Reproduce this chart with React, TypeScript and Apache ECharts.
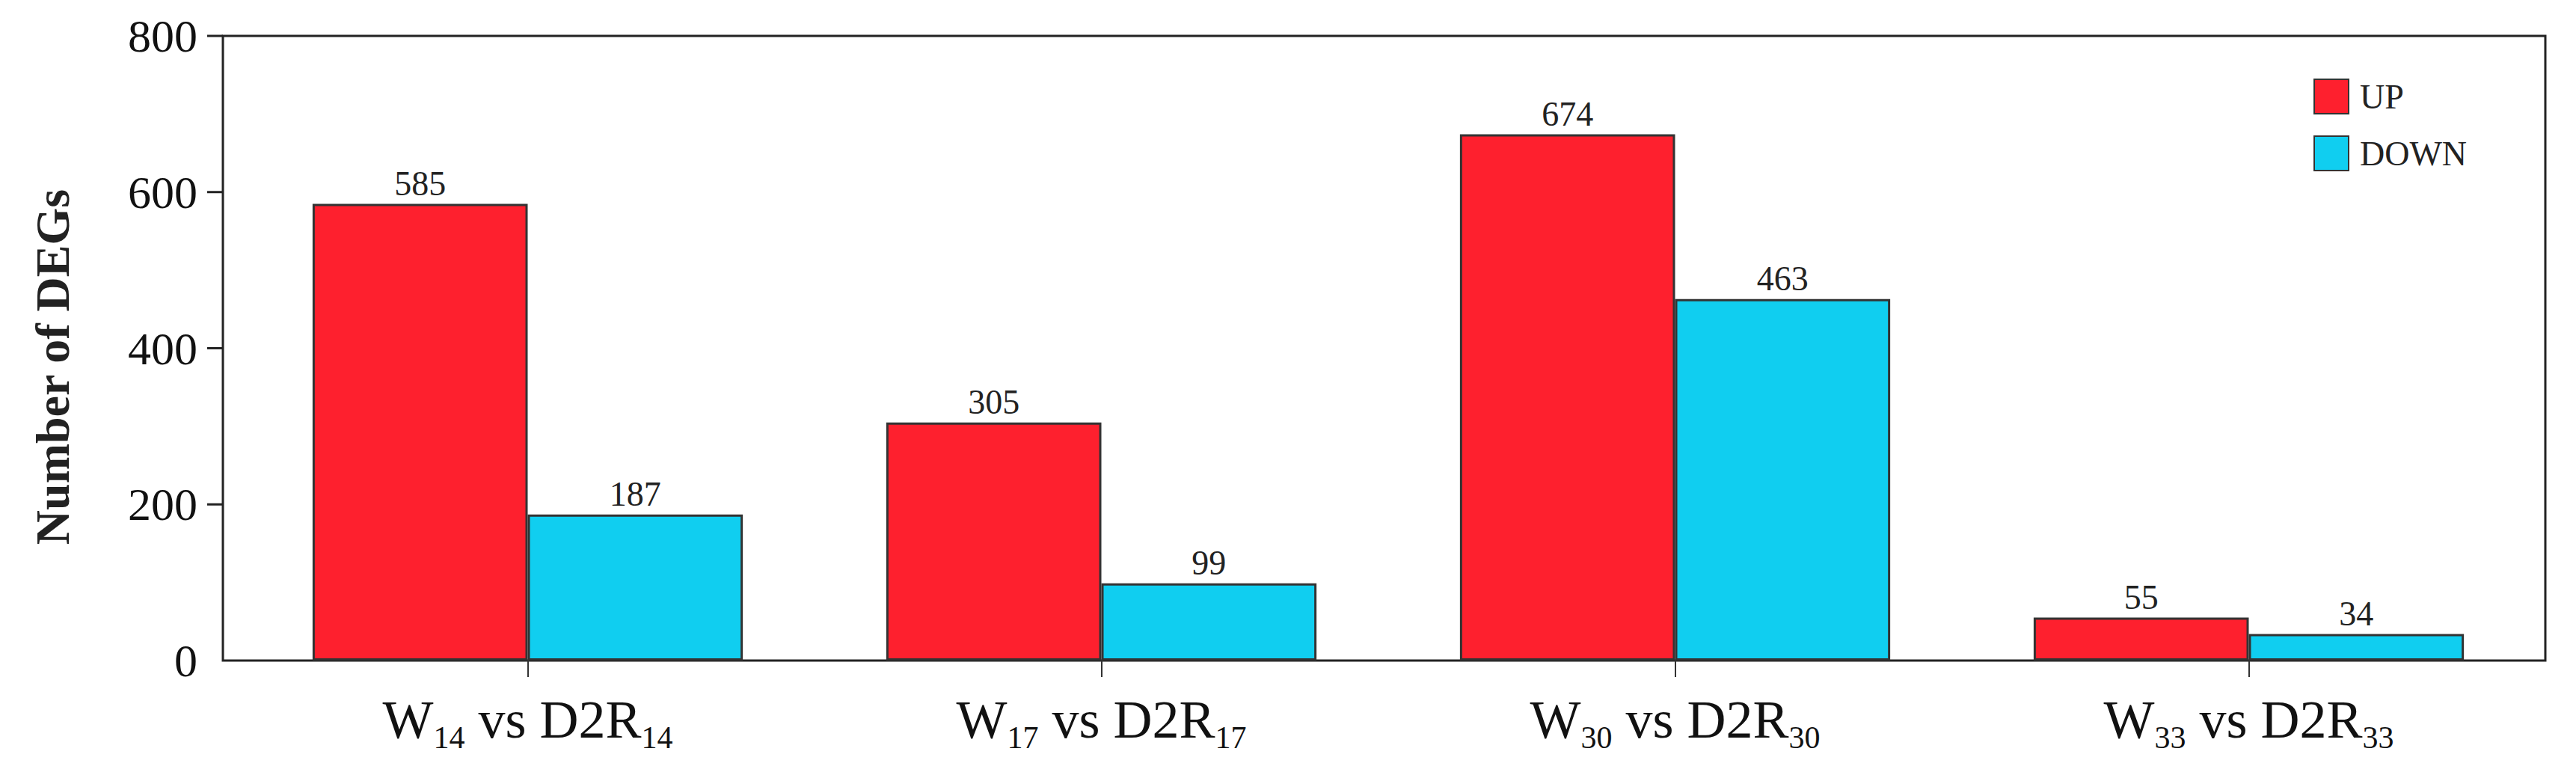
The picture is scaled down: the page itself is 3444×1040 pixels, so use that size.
import React, { useEffect, useRef } from "react";
import * as echarts from "echarts";

const groupNums = ["14", "17", "30", "33"];
const categories = groupNums.map((n) => `W${n} vs D2R${n}`);
const seriesNames = ["UP", "DOWN"];
const upValues = [585, 305, 674, 55];
const downValues = [187, 99, 463, 34];
const yTicks = [0, 200, 400, 600, 800];
const yTickMarks = [200, 400, 600, 800];

const FONT = "'Liberation Serif', 'Times New Roman', serif";
const RED = "#FE202E";
const CYAN = "#10CEF0";

export default function App() {
  const ref = useRef<HTMLDivElement>(null);

  useEffect(() => {
    if (!ref.current) return;
    const chart = echarts.init(ref.current, undefined, { renderer: "svg" });

    const labelStyle = {
      show: true,
      position: "top",
      distance: 4,
      fontFamily: FONT,
      fontSize: 46,
      color: "#222",
    };

    const yMin = yTicks[0];
    const yMax = yTicks[yTicks.length - 1];

    chart.setOption({
      animation: false,
      backgroundColor: "#ffffff",
      textStyle: { fontFamily: FONT },
      legend: {
        data: seriesNames,
        orient: "vertical",
        left: 3093,
        top: 105,
        itemWidth: 46,
        itemHeight: 46,
        itemGap: 28,
        icon: "rect",
        padding: 0,
        textStyle: {
          fontFamily: FONT,
          fontSize: 46,
          color: "#222",
          padding: [0, 0, 0, 10],
        },
      },
      grid: [
        { left: 322, right: 54, top: 48, bottom: 157, containLabel: false },
        {
          left: 298,
          right: 41,
          top: 48,
          bottom: 157,
          show: true,
          borderColor: "#222",
          borderWidth: 3,
          backgroundColor: "transparent",
          containLabel: false,
        },
      ],
      xAxis: [
        {
          type: "category",
          gridIndex: 0,
          data: categories,
          axisLine: { show: false },
          axisTick: {
            show: true,
            alignWithLabel: true,
            length: 22,
            lineStyle: { color: "#333", width: 2 },
          },
          axisLabel: {
            margin: 34,
            formatter: (_v: string, idx: number) => {
              const n = groupNums[idx];
              return `{m|W}{s|${n}}{m| vs D2R}{s|${n}}`;
            },
            rich: {
              m: {
                fontFamily: FONT,
                fontSize: 72,
                lineHeight: 90,
                color: "#111",
              },
              s: {
                fontFamily: FONT,
                fontSize: 42,
                lineHeight: 14,
                verticalAlign: "bottom",
                color: "#111",
              },
            },
          },
          splitLine: { show: false },
        },
        { type: "value", gridIndex: 1, show: false, min: 0, max: 1 },
      ],
      yAxis: [
        {
          type: "value",
          gridIndex: 0,
          min: yMin,
          max: yMax,
          interval: 200,
          show: false,
        },
        {
          type: "value",
          gridIndex: 1,
          min: yMin,
          max: yMax,
          interval: 200,
          name: "Number of DEGs",
          nameLocation: "middle",
          nameGap: 196,
          nameRotate: 90,
          nameTextStyle: {
            fontFamily: FONT,
            fontSize: 64,
            fontWeight: "bold",
            color: "#222",
            padding: [0, 50, 0, 0],
          },
          axisLine: { show: false },
          axisTick: { show: false },
          axisLabel: {
            margin: 34,
            fontFamily: FONT,
            fontSize: 62,
            color: "#111",
          },
          splitLine: { show: false },
        },
      ],
      series: [
        {
          name: seriesNames[0],
          type: "bar",
          xAxisIndex: 0,
          yAxisIndex: 0,
          data: upValues,
          barGap: "0%",
          barCategoryGap: "25%",
          itemStyle: { color: RED, borderColor: "#333", borderWidth: 3 },
          label: labelStyle,
        },
        {
          name: seriesNames[1],
          type: "bar",
          xAxisIndex: 0,
          yAxisIndex: 0,
          data: downValues,
          barGap: "0%",
          barCategoryGap: "25%",
          itemStyle: { color: CYAN, borderColor: "#333", borderWidth: 3 },
          label: labelStyle,
        },
        {
          name: "yTicks",
          type: "custom",
          xAxisIndex: 1,
          yAxisIndex: 1,
          clip: false,
          silent: true,
          z: 10,
          data: yTickMarks.map((v) => [0, v]),
          encode: { x: 0, y: 1 },
          renderItem: (_params: any, api: any) => {
            const p = api.coord([0, api.value(1)]);
            return {
              type: "line",
              shape: { x1: p[0] - 21, y1: p[1], x2: p[0], y2: p[1] },
              style: { stroke: "#222", lineWidth: 3 },
            };
          },
        },
      ],
    });

    return () => chart.dispose();
  }, []);

  return (
    <div
      ref={ref}
      style={{
        position: "fixed",
        left: 0,
        top: 0,
        width: 3444,
        height: 1040,
        background: "#fff",
      }}
    />
  );
}
